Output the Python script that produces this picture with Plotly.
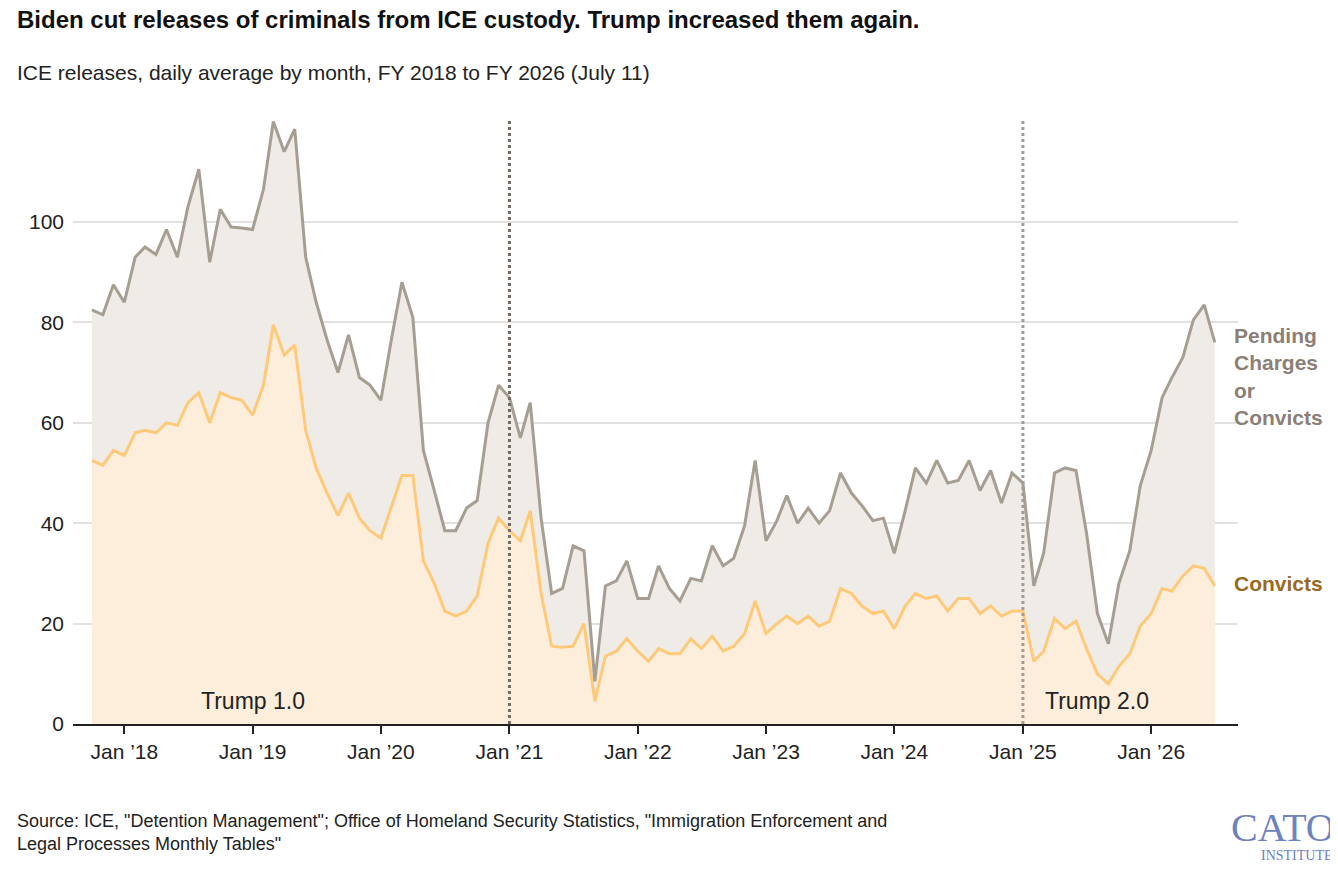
import plotly.graph_objects as go
import pandas as pd

months = pd.date_range("2017-10-01", "2026-07-01", freq="MS")
pending_or_convicts = [82.5, 81.5, 87.5,
 84, 93, 95, 93.5, 98.5, 93, 103, 110.5, 92, 102.5, 99, 98.8,
 98.5, 106.5, 120, 114, 118.5, 93, 84, 76.5, 70, 77.5, 69, 67.5,
 64.5, 77, 88, 81, 54.5, 46.5, 38.5, 38.5, 43, 44.5, 60, 67.5,
 65, 57, 64, 41, 26, 27, 35.5, 34.5, 8.5, 27.5, 28.5, 32.5,
 25, 25, 31.5, 27, 24.5, 29, 28.5, 35.5, 31.5, 33, 39.5, 52.5,
 36.5, 40.5, 45.5, 40, 43, 40, 42.5, 50, 46, 43.5, 40.5, 41,
 34, 42.5, 51, 48, 52.5, 48, 48.5, 52.5, 46.5, 50.5, 44, 50,
 48, 27.5, 34, 50, 51, 50.5, 38, 22, 16, 28, 34.5, 47.5,
 54.5, 65, 69, 73, 80.5, 83.5, 76]
convicts = [52.5, 51.5, 54.5,
 53.5, 58, 58.5, 58, 60, 59.5, 64, 66, 60, 66, 65, 64.5,
 61.5, 67.5, 79.5, 73.5, 75.5, 58.5, 51, 46, 41.5, 46, 41, 38.5,
 37, 43.5, 49.5, 49.5, 32.5, 28, 22.5, 21.5, 22.5, 25.5, 36, 41,
 38.5, 36.5, 42.5, 26, 15.5, 15.3, 15.5, 20, 4.5, 13.5, 14.5, 17,
 14.5, 12.5, 15, 14, 14, 17, 15, 17.5, 14.5, 15.5, 18, 24.5,
 18, 20, 21.5, 20, 21.5, 19.5, 20.5, 27, 26, 23.5, 22, 22.5,
 19, 23.5, 26, 25, 25.5, 22.5, 25, 25, 22, 23.5, 21.5, 22.5,
 22.5, 12.5, 14.5, 21, 19, 20.5, 15, 10, 8, 11.5, 14, 19.5,
 22, 27, 26.5, 29.5, 31.5, 31, 27.5]
tick_dates = [f"{y}-01-01" for y in range(2018, 2027)]
tick_labels = [f"Jan \u2019{str(y)[2:]}" for y in range(2018, 2027)]
FONT = "Liberation Sans"

fig = go.Figure()
fig.add_trace(go.Scatter(x=months, y=convicts, mode="lines", fill="tozeroy",
    fillcolor="#fdeedb", line=dict(color="#ffc97a", width=3), hoverinfo="skip"))
fig.add_trace(go.Scatter(x=months, y=pending_or_convicts, mode="lines", fill="tonexty",
    fillcolor="#efebe6", line=dict(color="#a79e93", width=3), hoverinfo="skip"))

fig.add_shape(type="line", x0="2021-01-01", x1="2021-01-01", y0=0, y1=120.5, yref="y",
    line=dict(color="#736b63", width=3, dash="dot"), layer="above")
fig.add_shape(type="line", x0="2025-01-01", x1="2025-01-01", y0=0, y1=120.5, yref="y",
    line=dict(color="#a39c96", width=3, dash="dot"), layer="above")

ann = [
 dict(x="2019-01-01", y=1.5, text="Trump 1.0", showarrow=False, yanchor="bottom", font=dict(size=23, color="#222")),
 dict(x="2025-08-01", y=1.5, text="Trump 2.0", showarrow=False, yanchor="bottom", font=dict(size=23, color="#222")),
 dict(xref="paper", x=0.995, y=80, text="<b>Pending<br>Charges<br>or<br>Convicts</b>", showarrow=False,
      xanchor="left", yanchor="top", align="left", font=dict(size=21, color="#8c8076")),
 dict(xref="paper", x=0.995, y=28, text="<b>Convicts</b>", showarrow=False, xanchor="left",
      align="left", font=dict(size=21, color="#9a6a24")),
 dict(xref="paper", yref="paper", x=-0.05, y=1.18, text="<b>Biden cut releases of criminals from ICE custody. Trump increased them again.</b>",
      showarrow=False, xanchor="left", yanchor="top", font=dict(size=24, color="#111")),
 dict(xref="paper", yref="paper", x=-0.05, y=1.09, text="ICE releases, daily average by month, FY 2018 to FY 2026 (July 11)",
      showarrow=False, xanchor="left", yanchor="top", font=dict(size=21, color="#222")),
 dict(xref="paper", yref="paper", x=-0.05, y=-0.14, text="Source: ICE, \"Detention Management\"; Office of Homeland Security Statistics, \"Immigration Enforcement and<br>Legal Processes Monthly Tables\"",
      showarrow=False, xanchor="left", yanchor="top", align="left", font=dict(size=18, color="#222")),
 dict(xref="paper", yref="paper", x=1.085, y=-0.13, text="CATO", showarrow=False, xanchor="right", yanchor="top",
      font=dict(size=40, color="#6f82bd", family="Liberation Serif")),
 dict(xref="paper", yref="paper", x=1.083, y=-0.2, text="INSTITUTE", showarrow=False, xanchor="right", yanchor="top",
      font=dict(size=14, color="#6f82bd", family="Liberation Serif")),
]
fig.update_layout(
    width=1338, height=880, paper_bgcolor="white", plot_bgcolor="white",
    margin=dict(l=65, r=108, t=106, b=164), showlegend=False,
    font=dict(family=FONT, size=21, color="#222"), annotations=ann,
    xaxis=dict(range=["2017-08-08", "2026-09-05"], tickvals=tick_dates, ticktext=tick_labels,
               showgrid=False, showline=True, linecolor="#222", linewidth=2,
               ticks="outside", ticklen=8, tickwidth=2, tickcolor="#222",
               tickfont=dict(size=21, color="#222")),
    yaxis=dict(range=[0, 121.5], tickvals=[0, 20, 40, 60, 80, 100], showgrid=True,
               gridcolor="#e3e1df", gridwidth=2, zeroline=False, ticks="", ticklabelstandoff=8,
               tickfont=dict(size=21, color="#222")),
)
fig.write_html("out.html")
